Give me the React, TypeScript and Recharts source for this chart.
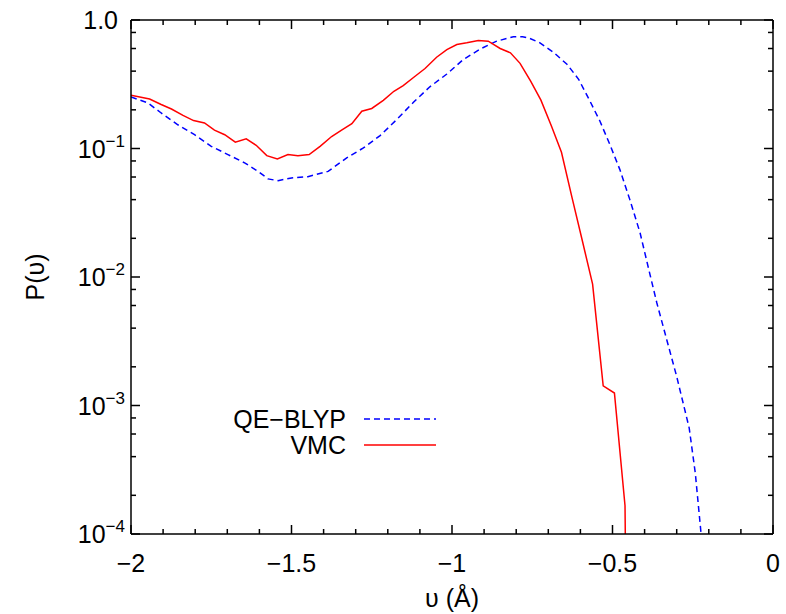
import React from 'react';
import { LineChart, Line, XAxis, YAxis, Legend, ReferenceLine, Label } from 'recharts';

// ---- layout ----
const CHART_W = 786;
const CHART_H = 614;
const MARGIN = { top: 20, right: 13, bottom: 0, left: 0 };
const Y_AXIS_W = 131;
const X_AXIS_H = 80;
const PLOT_TOP = MARGIN.top;
const PLOT_RIGHT = CHART_W - MARGIN.right;
const FONT = '"Liberation Sans", Arial, Helvetica, sans-serif';
const FS = 25;

// ---- ticks ----
const xMajorTicks = [-2, -1.5, -1, -0.5, 0];
const xTickLabels = ['\u22122', '\u22121.5', '\u22121', '\u22120.5', '0'];
const xMinorTicks = [-1.9, -1.8, -1.7, -1.6, -1.4, -1.3, -1.2, -1.1, -0.9, -0.8, -0.7, -0.6, -0.4, -0.3, -0.2, -0.1];
const yMajorTicks = [1e-4, 1e-3, 1e-2, 1e-1, 1];
const yMajorBase = ['10', '10', '10', '10', '1.0'];
const yMajorSup = ['\u22124', '\u22123', '\u22122', '\u22121', ''];
const yMinorTicks = [
  2e-4, 4e-4, 6e-4, 8e-4,
  2e-3, 4e-3, 6e-3, 8e-3,
  2e-2, 4e-2, 6e-2, 8e-2,
  0.2, 0.4, 0.6, 0.8,
];

// ---- series: QE-BLYP ----
const blypX = [
  -2.0, -1.947, -1.906, -1.854, -1.802, -1.75, -1.698, -1.646, -1.604, -1.573,
  -1.542, -1.5, -1.449, -1.386, -1.328, -1.276, -1.224, -1.172, -1.12, -1.069,
  -1.016, -0.965, -0.911, -0.861, -0.809, -0.78, -0.762, -0.726, -0.684, -0.641,
  -0.605, -0.57, -0.539, -0.508, -0.477, -0.446, -0.414, -0.383, -0.362, -0.331,
  -0.3, -0.261, -0.242, -0.224,
];
const blypY = [
  0.252, 0.226, 0.189, 0.153, 0.128, 0.104, 0.0897, 0.0773, 0.0664, 0.058,
  0.0562, 0.059, 0.0604, 0.0664, 0.0845, 0.101, 0.126, 0.168, 0.229, 0.302,
  0.38, 0.492, 0.597, 0.684, 0.74, 0.742, 0.726, 0.664, 0.561, 0.45,
  0.344, 0.233, 0.163, 0.107, 0.0685, 0.04, 0.022, 0.0104, 0.0063, 0.00325,
  0.00168, 0.000667, 0.000297, 0.0001,
];

// ---- series: VMC ----
const vmcX = [
  -2.0, -1.942, -1.906, -1.874, -1.838, -1.805, -1.771, -1.74, -1.708, -1.675,
  -1.641, -1.61, -1.577, -1.544, -1.511, -1.48, -1.445, -1.411, -1.375, -1.344,
  -1.312, -1.281, -1.25, -1.214, -1.181, -1.152, -1.115, -1.084, -1.048, -1.016,
  -0.985, -0.954, -0.918, -0.887, -0.85, -0.818, -0.788, -0.755, -0.723, -0.69,
  -0.659, -0.627, -0.596, -0.562, -0.529, -0.494, -0.461, -0.459,
];
const vmcY = [
  0.26, 0.243, 0.22, 0.203, 0.181, 0.165, 0.158, 0.139, 0.128, 0.112,
  0.119, 0.106, 0.088, 0.083, 0.0897, 0.088, 0.0897, 0.104, 0.124, 0.139,
  0.156, 0.195, 0.205, 0.237, 0.279, 0.309, 0.365, 0.419, 0.513, 0.589,
  0.644, 0.664, 0.692, 0.684, 0.6, 0.556, 0.46, 0.334, 0.238, 0.149,
  0.0935, 0.0424, 0.0201, 0.0088, 0.00142, 0.00125, 0.000166, 0.00005,
];

const blypData = blypX.map((x, i) => ({ x, p: blypY[i] }));
const vmcData = vmcX.map((x, i) => ({ x, p: vmcY[i] }));

const allXTicks = [...xMajorTicks, ...xMinorTicks].sort((a, b) => a - b);
const allYTicks = [...yMajorTicks, ...yMinorTicks].sort((a, b) => a - b);

const XTick = (props: any) => {
  const { x, y, payload } = props;
  const v = payload.value;
  const mi = xMajorTicks.findIndex((t) => Math.abs(t - v) < 1e-6);
  const len = mi >= 0 ? 9 : 5;
  return (
    <g>
      <line x1={x} x2={x} y1={y} y2={y - len} stroke="#000" strokeWidth={1.5} />
      <line x1={x} x2={x} y1={PLOT_TOP} y2={PLOT_TOP + len} stroke="#000" strokeWidth={1.5} />
      {mi >= 0 && (
        <text x={x} y={y + 38} textAnchor="middle" fontSize={FS} fontFamily={FONT} fill="#000">
          {xTickLabels[mi]}
        </text>
      )}
    </g>
  );
};

const YTick = (props: any) => {
  const { x, y, payload } = props;
  const v = payload.value;
  const mi = yMajorTicks.findIndex((t) => Math.abs(Math.log10(t) - Math.log10(v)) < 1e-6);
  const len = mi >= 0 ? 9 : 5;
  return (
    <g>
      <line x1={x} x2={x + len} y1={y} y2={y} stroke="#000" strokeWidth={1.5} />
      <line x1={PLOT_RIGHT - len} x2={PLOT_RIGHT} y1={y} y2={y} stroke="#000" strokeWidth={1.5} />
      {mi >= 0 && yMajorSup[mi] !== '' && (
        <text x={x - 6} y={y + 9} textAnchor="end" fontSize={FS} fontFamily={FONT} fill="#000">
          <tspan>{yMajorBase[mi]}</tspan>
          <tspan dy={-11} fontSize={17}>{yMajorSup[mi]}</tspan>
        </text>
      )}
      {mi >= 0 && yMajorSup[mi] === '' && (
        <text x={x - 13} y={y + 9} textAnchor="end" fontSize={FS} fontFamily={FONT} fill="#000">
          {yMajorBase[mi]}
        </text>
      )}
    </g>
  );
};

const renderLegend = (props: any) => {
  const payload = props.payload || [];
  return (
    <svg width={CHART_W} height={CHART_H} style={{ position: 'absolute', left: 0, top: 0, pointerEvents: 'none' }}>
      {payload.map((entry: any, i: number) => {
        const cy = 419 + i * 26;
        const dash = entry.payload && entry.payload.strokeDasharray;
        return (
          <g key={i}>
            <text x={346} y={cy + 9} textAnchor="end" fontSize={FS} fontFamily={FONT} fill="#000">
              {entry.value}
            </text>
            <line x1={364} x2={436} y1={cy} y2={cy} stroke={entry.color} strokeWidth={1.5} strokeDasharray={dash} />
          </g>
        );
      })}
    </svg>
  );
};

export default function App() {
  return (
    <div style={{ width: CHART_W, height: CHART_H }}>
      <style>{`body{margin:0;}`}</style>
      <LineChart width={CHART_W} height={CHART_H} margin={MARGIN}>
        <XAxis
          type="number"
          dataKey="x"
          domain={[-2, 0]}
          ticks={allXTicks}
          interval={0}
          allowDataOverflow
          tick={<XTick />}
          tickLine={false}
          tickSize={0}
          tickMargin={0}
          height={X_AXIS_H}
          axisLine={{ stroke: '#000', strokeWidth: 1.5 }}
        >
          <Label
            content={(p: any) => {
              const vb = p.viewBox || { x: Y_AXIS_W, width: PLOT_RIGHT - Y_AXIS_W, y: 534 };
              return (
                <text x={vb.x + vb.width / 2} y={vb.y + 73} textAnchor="middle" fontSize={FS} fontFamily={FONT} fill="#000">
                  {'\u03C5 (\u00C5)'}
                </text>
              );
            }}
          />
        </XAxis>
        <YAxis
          type="number"
          scale="log"
          domain={[1e-4, 1]}
          ticks={allYTicks}
          interval={0}
          allowDataOverflow
          width={Y_AXIS_W}
          tick={<YTick />}
          tickLine={false}
          tickSize={0}
          tickMargin={0}
          axisLine={{ stroke: '#000', strokeWidth: 1.5 }}
        >
          <Label
            content={(p: any) => {
              const vb = p.viewBox || { x: 0, y: 20, height: 514 };
              const cx = vb.x + 44;
              const cy = vb.y + vb.height / 2;
              return (
                <text x={cx} y={cy} transform={`rotate(-90 ${cx} ${cy})`} textAnchor="middle" fontSize={FS} fontFamily={FONT} fill="#000">
                  {'P(\u03C5)'}
                </text>
              );
            }}
          />
        </YAxis>
        <ReferenceLine y={1} stroke="#000" strokeWidth={1.5} />
        <ReferenceLine x={0} stroke="#000" strokeWidth={1.5} />
        <Legend
          layout="horizontal"
          verticalAlign="middle"
          align="center"
          content={renderLegend}
          wrapperStyle={{ left: 0, top: 0, width: 0, height: 0 }}
        />
        <Line
          data={blypData}
          dataKey="p"
          name={'QE\u2212BLYP'}
          type="linear"
          stroke="#0000ff"
          strokeWidth={1.5}
          strokeDasharray="6 4"
          dot={false}
          activeDot={false}
          isAnimationActive={false}
        />
        <Line
          data={vmcData}
          dataKey="p"
          name="VMC"
          type="linear"
          stroke="#ff0000"
          strokeWidth={1.5}
          dot={false}
          activeDot={false}
          isAnimationActive={false}
        />
      </LineChart>
    </div>
  );
}
